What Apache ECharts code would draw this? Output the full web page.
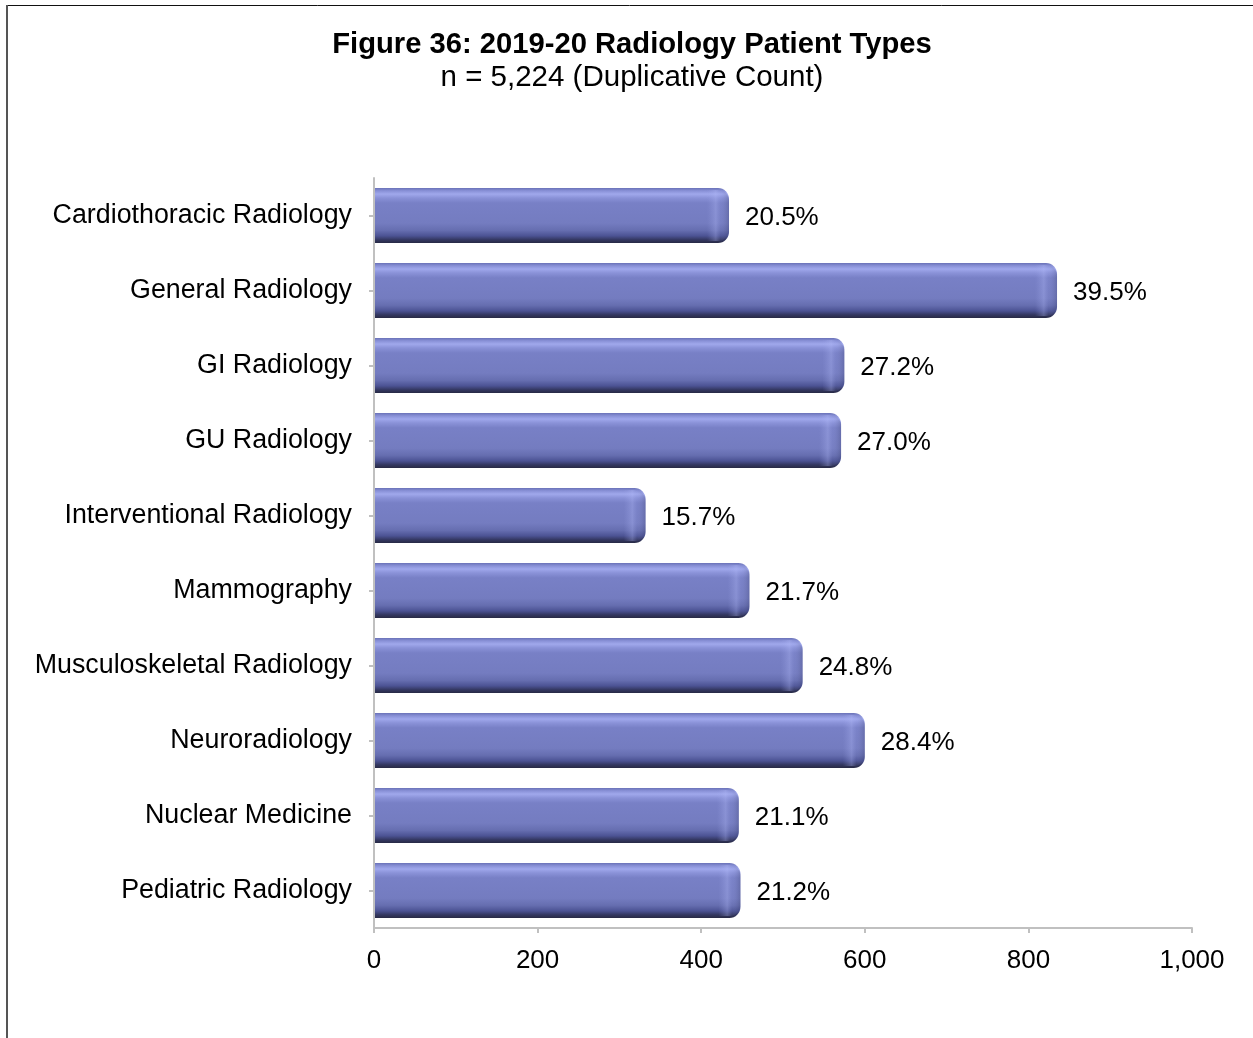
<!DOCTYPE html>
<html>
<head>
<meta charset="utf-8">
<title>2019-20 Radiology Patient Types</title>
<script src="https://cdn.jsdelivr.net/npm/echarts@6/dist/echarts.min.js"></script>
<style>
  html, body { margin: 0; padding: 0; background: #fff; }
  #chart { width: 1253px; height: 1038px; }
</style>
</head>
<body>
<div id="chart"></div>
<script>
// Patient types (top to bottom) and duplicative patient counts
const categories = [
  'Cardiothoracic Radiology',
  'General Radiology',
  'GI Radiology',
  'GU Radiology',
  'Interventional Radiology',
  'Mammography',
  'Musculoskeletal Radiology',
  'Neuroradiology',
  'Nuclear Medicine',
  'Pediatric Radiology'
];
const counts = [434, 835, 575, 571, 332, 459, 524, 600, 446, 448];
const pctLabels = ['20.5%', '39.5%', '27.2%', '27.0%', '15.7%', '21.7%', '24.8%', '28.4%', '21.1%', '21.2%'];
const xTicks = [0, 200, 400, 600, 800, 1000];

const FONT = "'Liberation Sans', Arial, sans-serif";
const chart = echarts.init(document.getElementById('chart'), null, { renderer: 'canvas' });

// Bevelled bar body: light rim along the top, dark shading toward the bottom
const bodyFill = new echarts.graphic.LinearGradient(0, 0, 0, 1, [
  { offset: 0.00, color: '#6a72b8' },
  { offset: 0.05, color: '#8890d6' },
  { offset: 0.11, color: '#a0a8ec' },
  { offset: 0.18, color: '#8a92d8' },
  { offset: 0.27, color: '#7880c6' },
  { offset: 0.64, color: '#747cc0' },
  { offset: 0.77, color: '#666eb0' },
  { offset: 0.87, color: '#4c5394' },
  { offset: 0.94, color: '#343862' },
  { offset: 1.00, color: '#282a45' }
]);
// Rounded end cap shading (soft highlight, then darker rim)
const capFill = new echarts.graphic.LinearGradient(0, 0, 1, 0, [
  { offset: 0.00, color: 'rgba(160,168,236,0)' },
  { offset: 0.40, color: 'rgba(180,188,250,0.32)' },
  { offset: 0.62, color: 'rgba(160,168,236,0.08)' },
  { offset: 1.00, color: 'rgba(40,44,80,0.22)' }
]);

function renderBar(params, api) {
  const idx = api.value(0);
  const val = api.value(1);
  const start = api.coord([0, idx]);
  const end = api.coord([val, idx]);
  const band = api.size([0, 1])[1];
  const h = band * 0.733;
  const y = start[1] - h / 2;
  const x0 = start[0] + 1;
  const w = end[0] - x0;
  const r = 11;
  return {
    type: 'group',
    children: [
      {
        type: 'rect',
        shape: { x: x0, y: y, width: w, height: h, r: [0, r, r, 0] },
        style: { fill: bodyFill }
      },
      {
        type: 'rect',
        shape: { x: end[0] - 22, y: y + 2, width: 22, height: h - 4, r: [0, r, r, 0] },
        style: { fill: capFill }
      },
      {
        type: 'text',
        x: end[0] + 16,
        y: start[1] + 2,
        style: {
          text: pctLabels[idx],
          fill: '#000',
          font: '26px ' + FONT,
          textAlign: 'left',
          textVerticalAlign: 'middle'
        }
      }
    ]
  };
}

chart.setOption({
  backgroundColor: '#fff',
  animation: false,
  title: {
    text: 'Figure 36: 2019-20 Radiology Patient Types',
    subtext: 'n = 5,224 (Duplicative Count)',
    left: 627,
    textAlign: 'center',
    top: 25,
    itemGap: 4,
    textStyle: { fontFamily: FONT, fontSize: 29.2, fontWeight: 'bold', color: '#000' },
    subtextStyle: { fontFamily: FONT, fontSize: 29.5, color: '#000' }
  },
  graphic: [
    // page frame: top and left rules
    { type: 'line', shape: { x1: 6, y1: 5.5, x2: 1253, y2: 5.5 }, style: { stroke: '#111', lineWidth: 1 } },
    { type: 'line', shape: { x1: 7, y1: 5, x2: 7, y2: 1038 }, style: { stroke: '#555', lineWidth: 2 } }
  ],
  grid: { left: 374, right: 61, top: 178, bottom: 110, containLabel: false },
  xAxis: {
    type: 'value',
    min: xTicks[0],
    max: xTicks[xTicks.length - 1],
    interval: 200,
    splitLine: { show: false },
    axisLine: { show: true, lineStyle: { color: '#c0c0c0', width: 2 } },
    axisTick: { show: true, length: 5, lineStyle: { color: '#c0c0c0', width: 2 } },
    axisLabel: {
      margin: 20,
      color: '#000',
      fontFamily: FONT,
      fontSize: 26,
      formatter: v => v.toLocaleString('en-US')
    }
  },
  yAxis: {
    type: 'category',
    data: categories,
    inverse: true,
    axisLine: { show: true, lineStyle: { color: '#c0c0c0', width: 2 } },
    axisTick: { show: true, alignWithLabel: true, length: 5, lineStyle: { color: '#c0c0c0', width: 2 } },
    axisLabel: { margin: 22, color: '#000', fontFamily: FONT, fontSize: 26.8, lineHeight: 30, padding: [5, 0, 0, 0] }
  },
  series: [{
    type: 'custom',
    renderItem: renderBar,
    encode: { x: 1, y: 0 },
    data: counts.map((c, i) => [i, c])
  }]
});
</script>
</body>
</html>
